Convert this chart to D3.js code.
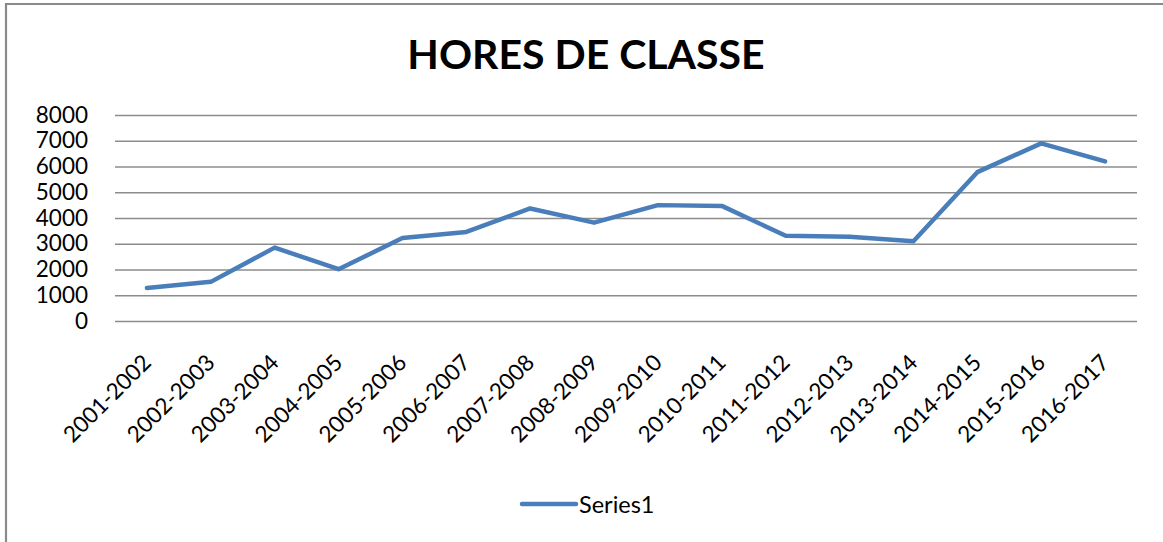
<!DOCTYPE html>
<html>
<head>
<meta charset="utf-8">
<script src="https://cdn.jsdelivr.net/npm/d3@7"></script>
<style>
  html, body { margin: 0; padding: 0; background: #fff; }
  svg { display: block; }
  text { font-family: Lato, "Open Sans", sans-serif; fill: #000; }
</style>
</head>
<body>
<svg id="chart" width="1163" height="542"></svg>
<script>
const title = "HORES DE CLASSE";
const categories = ["2001-2002","2002-2003","2003-2004","2004-2005","2005-2006","2006-2007","2007-2008","2008-2009","2009-2010","2010-2011","2011-2012","2012-2013","2013-2014","2014-2015","2015-2016","2016-2017"];
const values = [1280, 1520, 2850, 2010, 3220, 3460, 4370, 3820, 4500, 4470, 3310, 3270, 3100, 5780, 6900, 6200];
const yTicks = [0, 1000, 2000, 3000, 4000, 5000, 6000, 7000, 8000];
const seriesName = "Series1";

const svg = d3.select("#chart");
const W = 1163, H = 542;
const plot = { left: 115, right: 1137, top: 115, bottom: 321 };
const blue = "#4a7ebb";

// chart border (left and top visible)
svg.append("path")
  .attr("d", `M6,${H} L6,4 L${W},4`)
  .attr("fill", "none").attr("stroke", "#8a8a8a").attr("stroke-width", 2.2);

svg.append("text")
  .attr("x", 586).attr("y", 69)
  .attr("text-anchor", "middle")
  .attr("font-weight", "bold")
  .attr("font-size", 41)
  .text(title);

const x = d3.scalePoint().domain(categories).range([plot.left, plot.right]).padding(0.5);
const y = d3.scaleLinear().domain([0, 8000]).range([plot.bottom, plot.top]);

// gridlines
const yAxis = d3.axisLeft(y).tickValues(yTicks).tickSize(-(plot.right - plot.left)).tickPadding(27).tickFormat(d3.format("d"));
const gy = svg.append("g").attr("transform", `translate(${plot.left},0)`).call(yAxis);
gy.select(".domain").remove();
gy.selectAll(".tick line").attr("stroke", "#8c8c8c").attr("stroke-width", 1.6);
gy.selectAll(".tick text").attr("font-size", 22.5).attr("font-family", "Lato, sans-serif").attr("fill", "#000");

// x axis labels
const xAxis = d3.axisBottom(x).tickSize(0).tickPadding(0);
const gx = svg.append("g").attr("transform", `translate(0,${plot.bottom})`).call(xAxis);
gx.select(".domain").remove();
gx.selectAll(".tick text")
  .attr("font-size", 22.5).attr("font-family", "Lato, sans-serif").attr("fill", "#000")
  .attr("text-anchor", "end")
  .attr("y", 0).attr("dy", 0)
  .attr("transform", "translate(5,43) rotate(-45)");

// line
const line = d3.line().x((d, i) => x(categories[i])).y(d => y(d));
svg.append("path")
  .datum(values)
  .attr("d", line)
  .attr("fill", "none")
  .attr("stroke", blue)
  .attr("stroke-width", 4.5)
  .attr("stroke-linejoin", "round")
  .attr("stroke-linecap", "round");

// legend
svg.append("line")
  .attr("x1", 522).attr("x2", 576).attr("y1", 504).attr("y2", 504)
  .attr("stroke", blue).attr("stroke-width", 4.5).attr("stroke-linecap", "round");
svg.append("text")
  .attr("x", 579).attr("y", 513)
  .attr("font-size", 23.5)
  .text(seriesName);
</script>
</body>
</html>
